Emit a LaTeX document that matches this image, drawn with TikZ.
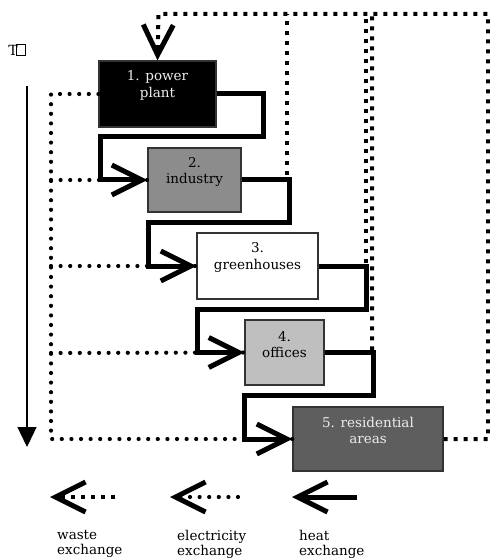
\documentclass[tikz,border=0pt]{standalone}
\usepackage{fontspec}
\setmainfont{DejaVu Serif}
\usetikzlibrary{arrows.meta}
\begin{document}
\begin{tikzpicture}[x=1bp,y=-1bp,
  every node/.style={font=\fontsize{13.5bp}{16.5bp}\selectfont},
  box/.style={draw=black!80,line width=1.2bp,inner sep=0pt},
  boxtext/.style={align=center,inner sep=0pt},
  barb/.style={-{Straight Barb[length=30bp,width=30bp,line width=5bp]}},
  heat/.style={line width=5bp,miter limit=4},
  waste/.style={line width=4bp,dash pattern=on 4bp off 6bp},
  elec/.style={line width=4.2bp,line cap=round,dash pattern=on 0bp off 9.6bp},
  legtext/.style={align=left,anchor=north west,inner sep=0pt,font=\fontsize{13.5bp}{15.5bp}\selectfont}
]
\useasboundingbox (0,0) rectangle (490,560);

% boxes
\node[box,fill=black,minimum width=117bp,minimum height=66bp] (pp) at (157.5,94) {};
\node[box,fill=black!45,minimum width=93bp,minimum height=64bp] (ind) at (194.5,180) {};
\node[box,fill=white,minimum width=121bp,minimum height=66bp] (gh) at (257.5,266) {};
\node[box,fill=black!25,minimum width=79bp,minimum height=65bp] (off) at (284.5,352.5) {};
\node[box,fill=black!63,minimum width=150bp,minimum height=64bp] (res) at (368,439) {};

% box texts
\node[boxtext,text=black!7] (ppt) at (157.5,85.5) {1. power\\plant};
\node[boxtext] (indt) at (194.5,172) {2.\\industry};
\node[boxtext] (ght) at (257.5,257.5) {3.\\greenhouses};
\node[boxtext] (offt) at (284.5,344.5) {4.\\offices};
\node[boxtext,text=black!7] (rest) at (368,430.5) {5. residential\\areas};

% waste exchange (square dots)
\draw[waste] (ind.east) -- (287,180) -- (287,14);
\draw[waste] (gh.east) -- (366,266) -- (366,14);
\draw[waste] (off.east) -- (372,353) -- (372,14);
\draw[waste,barb] (res.east) -- (488,439) -- (488,14) -- (158.5,14) -- (pp.north);

% electricity exchange (round dots)
\draw[elec] (pp.west) -- (51,94) -- (51,439) -- (res.west);
\draw[elec] (51,180) -- (ind.west);
\draw[elec] (51,266) -- (gh.west);
\draw[elec] (51,353) -- (off.west);

% heat exchange
\draw[heat,barb] (pp.east) -- (263,94) -- (263,137) -- (100,137) -- (100,180) -- (ind.west);
\draw[heat,barb] (ind.east) -- (289,180) -- (289,222) -- (148,222) -- (148,266) -- (gh.west);
\draw[heat,barb] (gh.east) -- (366,266) -- (366,309) -- (197,309) -- (197,352.5) -- (off.west);
\draw[heat,barb] (off.east) -- (373,352.5) -- (373,395) -- (244,395) -- (244,439) -- (res.west);

% time axis
\coordinate (tstart) at (27,86);
\coordinate (tend) at (27,447);
\draw[line width=1.3bp,-{Triangle[length=20bp,width=19bp]}] (tstart) -- (tend);
\node[inner sep=0pt,font=\fontsize{14bp}{14bp}\selectfont] (tsym) at (13,50) {T};
\draw[line width=1bp] (16.5,44.5) rectangle (25.5,55.5);

% legend
\coordinate (lw1) at (115,497); \coordinate (lw2) at (50,497);
\coordinate (le1) at (238,497); \coordinate (le2) at (170,497);
\coordinate (lh1) at (357,497); \coordinate (lh2) at (292,497);
\draw[waste,barb] (lw1) -- (lw2);
\draw[elec,barb] (le1) -- (le2);
\draw[heat,barb] (lh1) -- (lh2);
\node[legtext] (lwt) at (57,530) {waste\\exchange};
\node[legtext] (let) at (177,530) {electricity\\exchange};
\node[legtext] (lht) at (299,530) {heat\\exchange};
\end{tikzpicture}
\end{document}
